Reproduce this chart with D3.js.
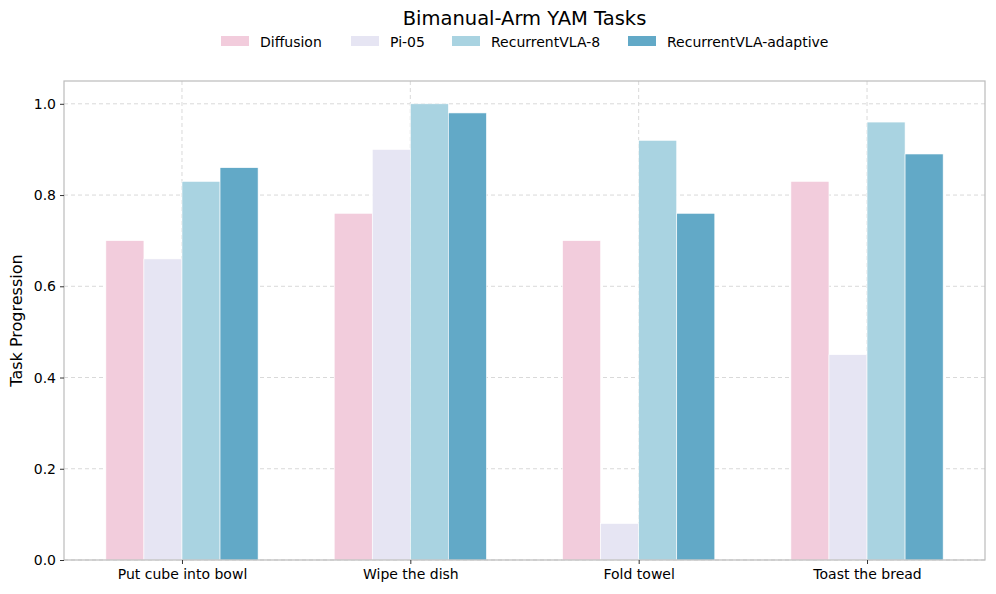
<!DOCTYPE html>
<html>
<head>
<meta charset="utf-8">
<script src="https://cdn.jsdelivr.net/npm/d3@7"></script>
<style>
  body { margin: 0; background: #fff; }
  text { font-family: "DejaVu Sans", sans-serif; fill: #000; }
</style>
</head>
<body>
<svg id="chart" width="996" height="594"></svg>
<script>
// data
var tasks = ['Put cube into bowl', 'Wipe the dish', 'Fold towel', 'Toast the bread'];
var methods = ['Diffusion', 'Pi-05', 'RecurrentVLA-8', 'RecurrentVLA-adaptive'];
var colors = ['#F2CCDC', '#E6E5F3', '#A9D3E1', '#62A9C7'];
var diffusion = [0.70, 0.76, 0.70, 0.83];
var pi05 = [0.66, 0.90, 0.08, 0.45];
var recurrent8 = [0.83, 1.00, 0.92, 0.96];
var recurrentAdaptive = [0.86, 0.98, 0.76, 0.89];
var yTicks = [0, 0.2, 0.4, 0.6, 0.8, 1.0];

var series = [diffusion, pi05, recurrent8, recurrentAdaptive];

var svg = d3.select('#chart');
var plotLeft = 64, plotRight = 985, plotTop = 81, plotBottom = 560;

// categories sit at 0, 1.2, 2.4, 3.6 with bars of width 0.2
var gap = 1.2, barW = 0.2;
var x = d3.scaleLinear().domain([-0.62, 4.22]).range([plotLeft, plotRight]);
var y = d3.scaleLinear().domain([0, 1.05]).range([plotBottom, plotTop]);

//grid
var grid = svg.append('g');
grid.selectAll('line.h').data(yTicks).enter().append('line')
	.attr('x1', plotLeft).attr('x2', plotRight)
	.attr('y1', function(d) { return y(d); }).attr('y2', function(d) { return y(d); })
	.attr('stroke', '#d9d9d9').attr('stroke-width', 1).attr('stroke-dasharray', '4,3');
grid.selectAll('line.v').data(tasks).enter().append('line')
	.attr('x1', function(d, i) { return x(i * gap); }).attr('x2', function(d, i) { return x(i * gap); })
	.attr('y1', plotTop).attr('y2', plotBottom)
	.attr('stroke', '#d9d9d9').attr('stroke-width', 1).attr('stroke-dasharray', '4,3');

//bars
series.forEach(function(vals, j) {
	svg.append('g').selectAll('rect').data(vals).enter().append('rect')
		.attr('x', function(d, i) { return x(i * gap + (j - 2) * barW); })
		.attr('width', x(barW) - x(0))
		.attr('y', function(d) { return y(d); })
		.attr('height', function(d) { return y(0) - y(d); })
		.attr('fill', colors[j])
		.attr('stroke', '#fff').attr('stroke-width', 0.6);
});

//frame
svg.append('rect').attr('x', plotLeft).attr('y', plotTop)
	.attr('width', plotRight - plotLeft).attr('height', plotBottom - plotTop)
	.attr('fill', 'none').attr('stroke', '#bbbbbb').attr('stroke-width', 1.2);

//axes
var yAxis = svg.append('g').attr('transform', 'translate(' + plotLeft + ',0)')
	.call(d3.axisLeft(y).tickValues(yTicks).tickFormat(d3.format('.1f')).tickSize(4).tickPadding(4));
var xAxis = svg.append('g').attr('transform', 'translate(0,' + plotBottom + ')')
	.call(d3.axisBottom(x).tickValues(tasks.map(function(d, i) { return i * gap; }))
		.tickFormat(function(d, i) { return tasks[i]; }).tickSize(4).tickPadding(5));
[yAxis, xAxis].forEach(function(a) {
	a.select('.domain').remove();
	a.selectAll('.tick line').attr('stroke', '#333');
	a.selectAll('.tick text').style('font-size', '14px').style('font-family', '"DejaVu Sans", sans-serif').attr('fill', '#000');
});

//labels
svg.append('text').attr('x', (plotLeft + plotRight) / 2).attr('y', 25)
	.attr('text-anchor', 'middle').style('font-size', '19.5px').text('Bimanual-Arm YAM Tasks');
svg.append('text').attr('transform', 'translate(22,' + ((plotTop + plotBottom) / 2) + ') rotate(-90)')
	.attr('text-anchor', 'middle').style('font-size', '16px').text('Task Progression');

//legend
var legendX = [221, 351, 452, 628];
var legend = svg.append('g').selectAll('g').data(methods).enter().append('g')
	.attr('transform', function(d, i) { return 'translate(' + legendX[i] + ',36)'; });
legend.append('rect').attr('width', 28).attr('height', 10)
	.attr('fill', function(d, i) { return colors[i]; });
legend.append('text').attr('x', 39).attr('y', 10.5).style('font-size', '14px')
	.text(function(d) { return d; });
</script>
</body>
</html>
